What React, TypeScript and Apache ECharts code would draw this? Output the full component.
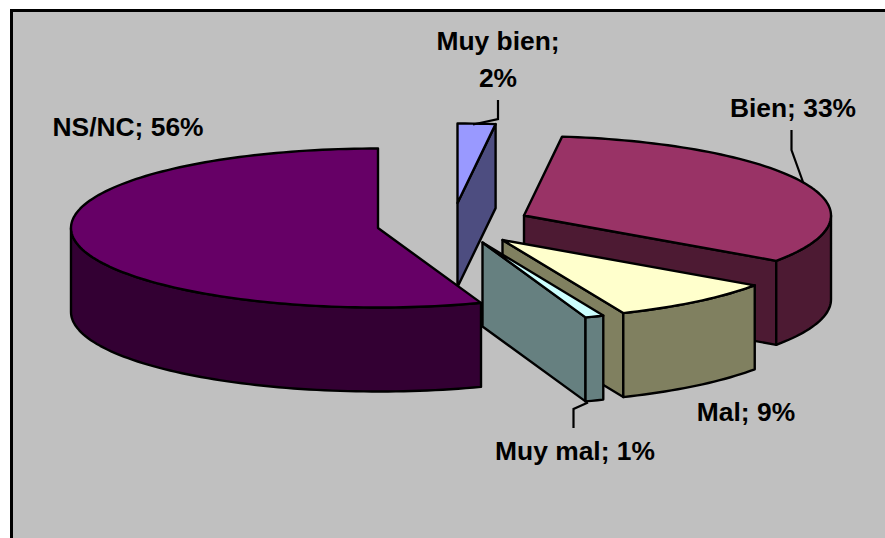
import React, { useEffect, useRef } from "react";
import * as echarts from "echarts";

const categories = ["Muy bien", "Bien", "Mal", "Muy mal", "NS/NC"];
const percents = [2, 33, 9, 1, 56];
const topColors = ["#9999ff", "#993366", "#ffffcc", "#ccffff", "#660066"];
const sideColors = ["#4d4d80", "#4d1a33", "#808060", "#668080", "#330033"];

// exploded position of each slice's tip on the page
const tips = [
  [457.5, 203],
  [524, 215.5],
  [502.5, 240],
  [482.5, 242.5],
  [378, 228],
];
const layers = [1, 2, 4, 5, 3];
const labelCenters = [
  [498, 41],
  [793, 108],
  [746, 412],
  [575, 451],
  [128, 127],
];
const labelBreaks = [true, false, false, false, false];
const leaders = [
  [[498, 100], [498, 119], [473, 124.5]],
  [[791.5, 130], [791.5, 150], [803, 182]],
  [],
  [[573.5, 428], [573.5, 409], [588, 402.5]],
  [],
];

const RX = 307;
const RY = 79.5;
const DEPTH = 84;
const FONT = 'bold 26.4px "Liberation Sans", Arial, sans-serif';
const total = percents.reduce((a, b) => a + b, 0);

function arc(cx: number, cy: number, from: number, to: number) {
  const pts: number[][] = [];
  const n = Math.max(2, Math.ceil((to - from) / 1.5));
  for (let k = 0; k <= n; k++) {
    const t = ((from + ((to - from) * k) / n) * Math.PI) / 180;
    pts.push([cx + RX * Math.sin(t), cy - RY * Math.cos(t)]);
  }
  return pts;
}

function renderSlice(params: any, api: any) {
  const i = params.dataIndex;
  const value = api.value(0);
  let before = 0;
  for (let k = 0; k < i; k++) before += percents[k];
  const a0 = (before / total) * 360;
  const a1 = ((before + value) / total) * 360;
  const [cx, cy] = tips[i];
  const z = layers[i] * 10;
  const poly = (points: number[][], fill: string, z2: number) => ({
    type: "polygon",
    z2,
    shape: { points },
    style: { fill, stroke: "#000", lineWidth: 2.4, lineJoin: "round" },
  });
  const children: any[] = [];
  const cut = (deg: number) => {
    const t = (deg * Math.PI) / 180;
    const ox = cx + RX * Math.sin(t);
    const oy = cy - RY * Math.cos(t);
    children.push(
      poly(
        [
          [cx, cy],
          [ox, oy],
          [ox, oy + DEPTH],
          [cx, cy + DEPTH],
        ],
        sideColors[i],
        z
      )
    );
  };
  // cut faces that look toward the viewer
  if (Math.sin((a0 * Math.PI) / 180) < -1e-6) cut(a0);
  if (Math.sin((a1 * Math.PI) / 180) > 1e-6) cut(a1);
  // outer wall: only the front half of the rim
  const wFrom = Math.max(a0, 90);
  const wTo = Math.min(a1, 270);
  if (wTo > wFrom) {
    const top = arc(cx, cy, wFrom, wTo);
    const bottom = arc(cx, cy + DEPTH, wFrom, wTo).reverse();
    children.push(poly(top.concat(bottom), sideColors[i], z + 1));
  }
  children.push(poly([[cx, cy], ...arc(cx, cy, a0, a1)], topColors[i], z + 2));

  if (leaders[i].length) {
    children.push({
      type: "polyline",
      z2: 100,
      shape: { points: leaders[i] },
      style: { fill: "none", stroke: "#000", lineWidth: 2.2 },
    });
  }
  const name = categories[i];
  const sep = labelBreaks[i] ? ";\n" : "; ";
  children.push({
    type: "text",
    z2: 101,
    style: {
      text: `${name}${sep}${value}%`,
      x: labelCenters[i][0],
      y: labelCenters[i][1] + (labelBreaks[i] ? 18 : 0),
      font: FONT,
      fill: "#000",
      align: "center",
      verticalAlign: "middle",
      lineHeight: 37,
    },
  });
  return { type: "group", children };
}

export default function App() {
  const ref = useRef<HTMLDivElement>(null);
  useEffect(() => {
    const chart = echarts.init(ref.current!, null, { renderer: "svg" });
    chart.setOption({
      animation: false,
      backgroundColor: "#ffffff",
      graphic: [
        { type: "rect", z: 0, shape: { x: 11, y: 10, width: 874, height: 528 }, style: { fill: "#c0c0c0" } },
        { type: "line", z: 1, shape: { x1: 10, y1: 10.5, x2: 885, y2: 10.5 }, style: { stroke: "#000", lineWidth: 3 } },
        { type: "line", z: 1, shape: { x1: 11.5, y1: 9, x2: 11.5, y2: 538 }, style: { stroke: "#000", lineWidth: 3 } },
      ],
      series: [
        {
          type: "custom",
          coordinateSystem: "none",
          silent: true,
          clip: false,
          renderItem: renderSlice,
          data: percents.map((v) => [v]),
          encode: { value: 0 },
        },
      ],
    });
    return () => chart.dispose();
  }, []);
  return <div ref={ref} style={{ position: "fixed", left: 0, top: 0, width: 885, height: 538 }} />;
}
